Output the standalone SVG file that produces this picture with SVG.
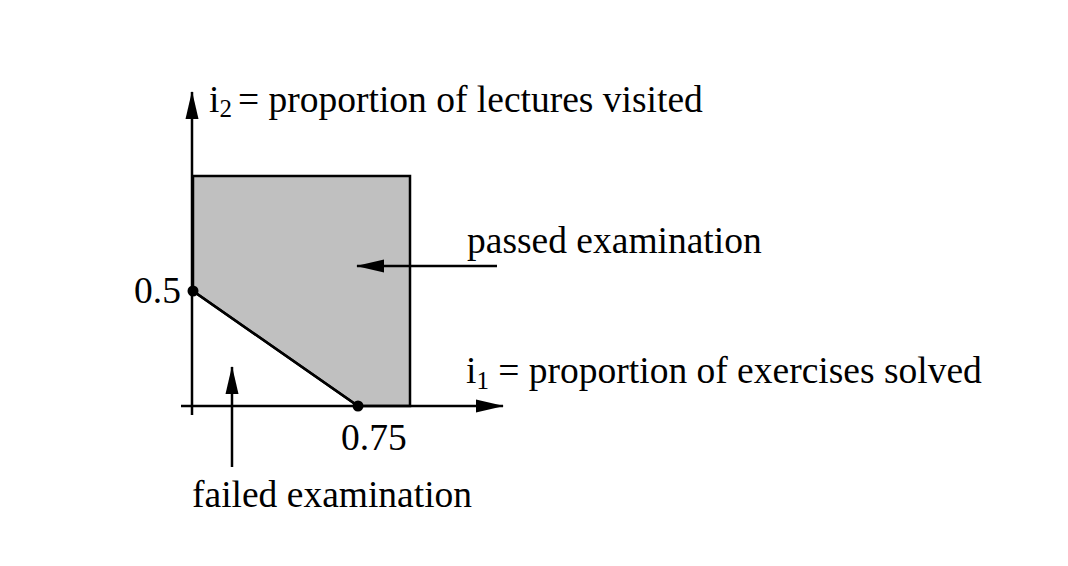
<svg xmlns="http://www.w3.org/2000/svg" width="1068" height="566" viewBox="0 0 1068 566">
<style>
text{font-family:"Liberation Serif","Times New Roman",serif;font-size:37.5px;fill:#000}
.sub{font-size:25px}
.ln{stroke:#000;stroke-width:2.5;fill:none}
</style>
<defs>
<marker id="ah" markerWidth="28" markerHeight="14" refX="27" refY="7" orient="auto" markerUnits="userSpaceOnUse">
<path d="M0,0.5 L28,7 L0,13.5 Z" fill="#000"/>
</marker>
</defs>
<rect width="1068" height="566" fill="#fff"/>
<g id="region-passed">
<polygon points="193,176 410,176 410,406 358,406 193,291" fill="#c0c0c0" stroke="#000" stroke-width="2.5"/>
</g>
<g id="connectors">
<line class="ln" x1="192" y1="415" x2="192" y2="92" marker-end="url(#ah)"/>
<line class="ln" x1="181" y1="406" x2="503" y2="406" marker-end="url(#ah)"/>
<line class="ln" x1="193" y1="291" x2="358" y2="406" stroke-width="3"/>
<line class="ln" x1="497" y1="266" x2="357" y2="266" marker-end="url(#ah)"/>
<line class="ln" x1="232" y1="467" x2="232" y2="367" marker-end="url(#ah)"/>
</g>
<g id="point-05">
<circle cx="193" cy="291" r="5.5" fill="#000"/>
<text x="134" y="303">0.5</text>
</g>
<g id="point-075">
<circle cx="358" cy="406" r="5.5" fill="#000"/>
<text x="341" y="450">0.75</text>
</g>
<g id="label-i2">
<text x="209" y="112">i<tspan class="sub" dy="5">2</tspan><tspan dy="-5" x="238">= proportion of lectures visited</tspan></text>
</g>
<g id="label-i1">
<text x="466" y="383">i<tspan class="sub" dy="6">1</tspan><tspan dy="-6"> = proportion of exercises solved</tspan></text>
</g>
<g id="label-passed">
<text x="467" y="253">passed examination</text>
</g>
<g id="label-failed">
<text x="192" y="507">failed examination</text>
</g>
</svg>
